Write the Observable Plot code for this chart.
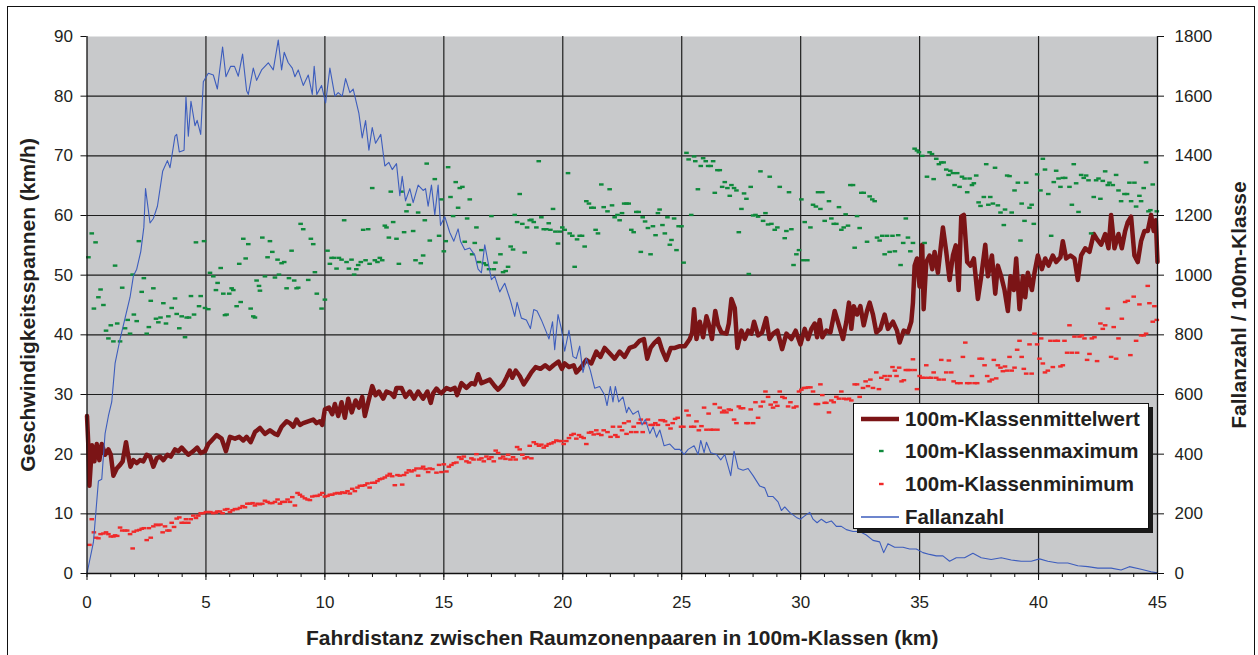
<!DOCTYPE html>
<html><head><meta charset="utf-8">
<script src="https://cdn.jsdelivr.net/npm/d3@7"></script>
<script src="https://cdn.jsdelivr.net/npm/@observablehq/plot@0.6"></script>
<style>
body{margin:0;background:#fff;font-family:"Liberation Sans",Arial,sans-serif;}
#wrap{position:relative;width:1258px;height:655px;overflow:hidden;background:#fff;}
#border{position:absolute;left:7px;top:6px;width:1246px;height:720px;border:1px solid #111;}
#chart{position:absolute;left:0;top:0;}
#legend{position:absolute;left:853px;top:403px;width:294px;height:124px;background:#fff;border:1px solid #111;box-shadow:4px 4px 0 #1a1a1a;}
.row{position:absolute;left:0;height:30px;width:294px;}
.row svg{position:absolute;left:5px;top:0;}
.row span{position:absolute;left:51px;top:3px;font-weight:bold;font-size:20.5px;color:#231f20;line-height:24px;white-space:nowrap;}
</style></head><body>
<div id="wrap"><div id="border"></div><div id="chart"></div>
<div id="legend">
 <div class="row" style="top:0px"><svg width="44" height="30"><line x1="2" x2="40" y1="15" y2="15" stroke="#7b1416" stroke-width="4.5"/></svg><span>100m-Klassenmittelwert</span></div>
 <div class="row" style="top:32px"><svg width="44" height="30"><rect x="20" y="13.8" width="4.6" height="2.4" fill="#0f8a3c"/></svg><span>100m-Klassenmaximum</span></div>
 <div class="row" style="top:65px"><svg width="44" height="30"><rect x="20" y="13.8" width="4.6" height="2.4" fill="#f02a2a"/></svg><span>100m-Klassenminimum</span></div>
 <div class="row" style="top:98px"><svg width="44" height="30"><line x1="2" x2="40" y1="15" y2="15" stroke="#3d5dbd" stroke-width="1.6"/></svg><span>Fallanzahl</span></div>
</div></div>
<script>
// Fallanzahl (count per 100m class) as [km, count]
const casePts = [[0,0],[0.27,105],[0.48,310],[0.62,316],[0.76,469],[0.90,528],[1.04,575],[1.18,704],[1.39,786],[1.60,856],[1.81,926],[1.95,997],[2.09,1020],[2.26,1079],[2.39,1161],[2.46,1290],[2.65,1175],[2.79,1190],[2.96,1231],[3.18,1348],[3.38,1384],[3.49,1360],[3.70,1466],[3.77,1472],[3.88,1413],[4.08,1419],[4.16,1597],[4.26,1466],[4.37,1583],[4.54,1501],[4.63,1519],[4.78,1472],[4.89,1648],[5.10,1677],[5.31,1671],[5.48,1624],[5.70,1765],[5.84,1665],[6.04,1700],[6.20,1700],[6.36,1667],[6.54,1741],[6.71,1618],[6.78,1606],[6.99,1694],[7.13,1653],[7.34,1688],[7.62,1712],[7.83,1688],[8.04,1788],[8.18,1688],[8.29,1747],[8.46,1712],[8.63,1694],[8.74,1665],[8.88,1688],[9.09,1636],[9.30,1671],[9.47,1606],[9.55,1700],[9.66,1606],[9.86,1636],[10.03,1577],[10.21,1694],[10.42,1600],[10.56,1612],[10.73,1600],[10.87,1659],[11.05,1612],[11.19,1624],[11.43,1542],[11.57,1460],[11.71,1518],[11.85,1419],[11.99,1495],[12.13,1442],[12.35,1472],[12.52,1366],[12.69,1378],[12.83,1354],[13.01,1374],[13.15,1266],[13.25,1331],[13.39,1249],[13.57,1290],[13.71,1243],[13.92,1302],[14.13,1284],[14.23,1290],[14.34,1231],[14.48,1302],[14.62,1202],[14.76,1302],[14.86,1167],[15.04,1196],[15.25,1143],[15.42,1114],[15.60,1155],[15.70,1114],[15.88,1085],[16.09,1091],[16.30,1067],[16.44,1020],[16.58,1008],[16.72,1102],[16.86,1044],[17.00,985],[17.14,997],[17.35,944],[17.56,973],[17.80,915],[17.98,862],[18.08,909],[18.26,856],[18.47,850],[18.64,821],[18.78,885],[18.92,880],[19.10,850],[19.31,809],[19.42,786],[19.57,844],[19.66,750],[19.80,868],[19.94,821],[20.08,745],[20.26,815],[20.43,727],[20.57,721],[20.71,762],[20.85,674],[20.99,721],[21.16,680],[21.34,621],[21.55,627],[21.76,598],[21.86,563],[22.00,627],[22.11,575],[22.21,627],[22.35,575],[22.53,592],[22.68,539],[22.77,557],[22.95,534],[23.17,545],[23.33,498],[23.47,516],[23.66,469],[23.80,492],[23.94,457],[24.08,481],[24.26,428],[24.50,434],[24.71,416],[24.92,416],[25.10,399],[25.27,416],[25.52,428],[25.69,399],[25.80,446],[25.94,405],[26.04,440],[26.22,405],[26.46,399],[26.64,381],[26.81,399],[27.06,328],[27.20,410],[27.37,352],[27.58,346],[27.79,352],[28.00,328],[28.28,293],[28.49,287],[28.63,258],[28.84,258],[29.05,240],[29.19,211],[29.33,223],[29.54,205],[29.82,188],[29.99,182],[30.17,193],[30.38,205],[30.52,182],[30.69,170],[30.87,182],[31.08,170],[31.29,176],[31.50,158],[31.71,158],[31.92,147],[32.20,141],[32.48,141],[32.76,129],[33.04,111],[33.32,106],[33.49,70],[33.67,100],[33.95,88],[34.30,88],[34.58,82],[34.86,82],[35.14,70],[35.42,64],[35.70,59],[35.98,59],[36.26,41],[36.54,53],[36.89,53],[37.24,68],[37.59,53],[38.01,47],[38.43,53],[38.85,45],[39.27,41],[39.69,41],[40.04,49],[40.39,41],[40.81,35],[41.23,35],[41.65,26],[42.07,23],[42.49,18],[43.05,18],[43.47,12],[43.82,23],[44.31,14],[44.73,6],[45.0,2]];

// 100m-Klassenmittelwert as [km, km/h]
const meanPts = [[0.0,26.4],[0.05,22],[0.1,14.7],[0.21,21.5],[0.31,18.8],[0.41,21.7],[0.52,19],[0.62,21.7],[0.76,19.9],[0.90,20.8],[1.0,19.9],[1.11,16.4],[1.25,17.6],[1.39,18.2],[1.50,18.8],[1.64,22.0],[1.74,19.6],[1.83,17.9],[1.95,19.0],[2.09,18.5],[2.23,19],[2.37,18.8],[2.51,19.9],[2.65,19.6],[2.79,17.9],[2.93,19.3],[3.07,19.6],[3.21,19.0],[3.38,19.9],[3.52,19.6],[3.70,20.8],[3.84,20.5],[3.98,21.1],[4.12,20.5],[4.26,19.9],[4.47,20.5],[4.63,21.1],[4.78,20.2],[4.96,20.5],[5.10,21.7],[5.24,22.3],[5.45,23.2],[5.66,22.6],[5.84,20.5],[6.01,22.9],[6.22,22.6],[6.40,22.9],[6.57,22.3],[6.71,22.9],[6.88,22],[7.06,23.7],[7.27,24.4],[7.48,23.4],[7.69,24.0],[7.90,23.4],[8.01,23.2],[8.18,24.6],[8.39,25.5],[8.53,25.2],[8.67,24.6],[8.81,25.8],[8.95,24.9],[9.09,25.2],[9.30,25.5],[9.51,25.8],[9.65,25.2],[9.79,25.5],[9.89,24.9],[10.0,27.5],[10.17,27.8],[10.31,26.7],[10.42,28.4],[10.56,26.4],[10.70,28.7],[10.84,26.1],[10.98,29.3],[11.13,27.0],[11.29,29.0],[11.43,27.8],[11.57,29.6],[11.68,26.4],[11.82,28.7],[11.99,31.4],[12.13,29.9],[12.27,30.5],[12.45,29.3],[12.59,30.5],[12.77,30.2],[12.91,29.6],[13.01,31.1],[13.22,31.1],[13.39,29.6],[13.57,30.5],[13.75,29.3],[13.92,30.5],[14.13,29.3],[14.31,30.5],[14.45,28.6],[14.55,30.2],[14.69,31.0],[14.80,30.5],[14.90,30.2],[15.11,31.1],[15.28,30.8],[15.46,31.1],[15.56,29.9],[15.74,31.9],[15.95,31.1],[16.16,31.9],[16.30,31.7],[16.44,33.4],[16.58,31.9],[16.76,32.2],[16.93,32.5],[17.14,31.4],[17.28,30.8],[17.49,31.7],[17.63,32.8],[17.77,34.0],[17.88,32.8],[18.02,34.0],[18.19,33.1],[18.36,31.7],[18.54,32.8],[18.68,33.7],[18.86,34.6],[19.06,34.3],[19.26,34.9],[19.44,34.3],[19.61,34.9],[19.82,35.5],[19.96,34.3],[20.08,35.2],[20.26,34.6],[20.46,34.9],[20.57,33.7],[20.78,34.6],[20.99,35.8],[21.20,35.2],[21.41,37.2],[21.58,36.3],[21.76,37.8],[21.97,36.9],[22.18,36.0],[22.39,37.2],[22.60,36.3],[22.81,37.8],[23.02,38.1],[23.23,39.0],[23.41,39.3],[23.55,36.0],[23.69,37.8],[23.86,38.7],[24.03,39.3],[24.17,37.5],[24.35,35.8],[24.54,37.8],[24.71,37.8],[24.92,38.1],[25.13,38.1],[25.34,39.3],[25.44,40.4],[25.52,44.3],[25.62,39.3],[25.76,42.2],[25.90,39.6],[26.04,43.1],[26.13,41.9],[26.27,39.3],[26.41,44.0],[26.53,41.6],[26.67,40.4],[26.88,40.2],[26.98,41.9],[27.09,46.0],[27.23,44.5],[27.34,37.8],[27.51,40.7],[27.65,39.3],[27.79,40.7],[27.93,40.2],[28.04,42.2],[28.21,39.9],[28.38,40.4],[28.55,42.8],[28.69,39.3],[28.84,40.2],[29.02,40.7],[29.22,37.6],[29.40,40.2],[29.61,39.3],[29.79,40.7],[29.99,38.4],[30.17,41.0],[30.31,39.3],[30.45,41.0],[30.59,41.9],[30.69,39.6],[30.80,42.5],[30.91,39.6],[31.08,40.7],[31.25,40.4],[31.43,44.0],[31.61,41.6],[31.78,39.3],[31.92,42.2],[32.03,45.4],[32.13,41.0],[32.23,44.8],[32.37,43.4],[32.51,44.8],[32.65,41.6],[32.79,44.0],[32.90,45.4],[33.04,43.4],[33.18,40.4],[33.35,41.0],[33.53,43.4],[33.67,41.0],[33.88,42.2],[34.05,40.7],[34.16,38.7],[34.33,40.7],[34.51,40.4],[34.65,42.2],[34.72,45.4],[34.79,51.6],[34.89,52.8],[35.0,48.1],[35.11,55.1],[35.17,44.3],[35.28,52.2],[35.42,53.3],[35.53,51.0],[35.63,53.9],[35.77,50.4],[35.98,58.0],[36.12,53.9],[36.26,49.2],[36.40,53.3],[36.52,55.0],[36.64,47.5],[36.75,59.8],[36.86,60.1],[37.0,52.2],[37.14,51.6],[37.28,52.8],[37.45,46.0],[37.59,49.8],[37.76,55.1],[37.87,49.8],[38.04,53.3],[38.18,46.9],[38.29,51.6],[38.43,49.8],[38.57,47.5],[38.71,44.0],[38.82,49.8],[38.96,47.5],[39.06,52.8],[39.20,44.3],[39.34,49.8],[39.44,46.3],[39.55,50.4],[39.72,47.5],[39.83,50.4],[39.97,53.3],[40.14,51.0],[40.28,52.8],[40.42,51.6],[40.60,53.3],[40.74,52.2],[40.92,53.0],[41.02,55.7],[41.16,52.8],[41.34,53.3],[41.51,52.8],[41.65,49.2],[41.79,53.3],[41.96,54.5],[42.14,53.9],[42.32,56.9],[42.46,56.0],[42.63,55.1],[42.80,56.9],[42.94,54.5],[43.05,60.1],[43.19,54.5],[43.36,56.9],[43.50,54.5],[43.64,57.4],[43.75,58.9],[43.89,59.8],[44.03,53.3],[44.17,52.2],[44.31,55.7],[44.45,57.4],[44.59,57.4],[44.73,60.1],[44.84,57.4],[44.93,59.2],[45.0,52.2]];

// 100m-Klassenmaximum as [km, km/h]
const maxPts = [[0.06,53.0],[0.2,57.0],[0.29,44.4],[0.36,55.5],[0.48,46.3],[0.57,47.6],[0.69,45.0],[0.80,40.7],[0.90,39.4],[1.0,41.6],[1.11,38.9],[1.18,51.6],[1.27,41.9],[1.39,38.9],[1.48,47.9],[1.60,41.1],[1.71,42.5],[1.81,40.2],[1.92,50.1],[1.97,43.4],[2.09,42.3],[2.18,55.7],[2.30,47.2],[2.39,49.5],[2.51,40.2],[2.60,41.3],[2.68,45.7],[2.79,47.8],[2.90,42.7],[3.0,42.1],[3.09,42.9],[3.21,45.3],[3.32,41.9],[3.42,43.1],[3.56,44.5],[3.70,46.1],[3.77,43.5],[3.88,41.1],[3.98,43.1],[4.12,39.6],[4.19,42.9],[4.29,42.9],[4.37,46.5],[4.50,43.4],[4.58,55.5],[4.71,44.8],[4.78,46.5],[4.92,55.7],[4.96,44.5],[5.10,44.3],[5.17,50.4],[5.31,49.8],[5.42,47.5],[5.49,48.7],[5.62,51.2],[5.73,46.9],[5.80,43.3],[5.87,43.4],[5.98,46.9],[6.08,47.8],[6.15,47.5],[6.29,44.8],[6.40,51.9],[6.46,45.5],[6.57,56.1],[6.67,52.8],[6.78,55.2],[6.88,44.4],[6.99,43.1],[7.06,42.9],[7.13,49.1],[7.23,48.2],[7.27,47.4],[7.37,56.3],[7.48,49.8],[7.59,53.0],[7.69,55.7],[7.79,53.9],[7.90,49.6],[8.01,52.6],[8.07,50.1],[8.18,52.0],[8.29,52.2],[8.39,47.8],[8.49,49.5],[8.60,54.1],[8.71,49.1],[8.81,47.8],[8.88,47.9],[8.98,58.6],[9.09,57.7],[9.30,49.2],[9.41,56.1],[9.51,55.2],[9.58,50.5],[9.66,46.9],[9.86,44.4],[10.0,45.9],[10.11,54.1],[10.21,51.9],[10.28,52.9],[10.39,52.9],[10.49,51.1],[10.59,52.9],[10.70,52.6],[10.81,59.2],[10.91,52.2],[11.01,51.1],[11.12,52.6],[11.23,50.1],[11.32,51.0],[11.40,51.7],[11.51,52.2],[11.61,57.6],[11.71,52.5],[11.82,57.7],[11.88,51.9],[11.99,64.6],[12.10,52.5],[12.21,52.2],[12.31,52.9],[12.41,52.5],[12.52,58.3],[12.59,58.0],[12.69,56.3],[12.77,64.0],[12.87,58.9],[13.01,56.1],[13.11,51.9],[13.22,64.0],[13.33,57.2],[13.43,60.7],[13.53,61.8],[13.71,57.4],[13.81,52.5],[13.92,60.5],[14.03,52.0],[14.13,53.3],[14.20,59.2],[14.28,68.7],[14.41,55.8],[14.62,66.1],[14.80,56.6],[14.90,62.7],[15.0,54.0],[15.08,55.7],[15.18,68.1],[15.28,63.1],[15.39,59.9],[15.50,65.6],[15.60,61.3],[15.67,64.6],[15.78,64.8],[15.88,55.6],[15.98,59.5],[16.09,62.7],[16.19,53.5],[16.30,55.4],[16.37,58.0],[16.48,52.2],[16.58,54.2],[16.68,52.0],[16.79,51.7],[16.90,51.0],[17.0,59.9],[17.10,51.0],[17.17,52.1],[17.28,56.1],[17.38,53.5],[17.49,50.5],[17.60,50.7],[17.70,51.4],[17.81,54.8],[17.91,54.3],[17.98,60.1],[18.08,58.9],[18.19,63.6],[18.30,58.6],[18.40,53.8],[18.50,58.0],[18.61,59.2],[18.68,59.3],[18.78,58.9],[18.89,58.0],[18.99,69.1],[19.10,59.7],[19.20,57.7],[19.31,57.7],[19.41,58.7],[19.48,57.6],[19.59,61.1],[19.69,57.3],[19.80,55.3],[19.87,57.3],[19.98,58.0],[20.08,57.6],[20.22,67.1],[20.29,57.0],[20.40,56.6],[20.50,51.4],[20.60,56.0],[20.71,56.6],[20.81,56.6],[20.92,54.8],[20.99,62.4],[21.10,62.0],[21.20,61.3],[21.30,61.3],[21.38,57.6],[21.48,57.0],[21.62,65.2],[21.72,61.4],[21.88,60.7],[21.97,64.4],[22.07,61.7],[22.18,59.7],[22.30,60.1],[22.39,59.2],[22.49,60.4],[22.58,62.0],[22.68,62.0],[22.77,62.0],[22.88,57.6],[22.98,57.2],[23.09,60.6],[23.19,60.6],[23.28,53.9],[23.36,59.7],[23.46,59.0],[23.58,57.9],[23.69,53.5],[23.79,58.2],[23.90,56.7],[24.0,60.4],[24.07,61.0],[24.19,58.4],[24.29,57.0],[24.40,59.7],[24.50,55.1],[24.57,55.9],[24.68,59.5],[24.78,54.2],[24.87,58.2],[24.99,58.2],[25.08,52.1],[25.20,70.5],[25.29,69.4],[25.40,60.1],[25.52,69.9],[25.57,69.1],[25.68,64.4],[25.80,68.3],[25.90,69.6],[26.01,69.1],[26.11,68.3],[26.22,68.3],[26.32,69.1],[26.39,63.8],[26.50,67.6],[26.60,67.6],[26.70,64.8],[26.81,65.6],[26.92,64.6],[27.02,63.3],[27.09,65.1],[27.20,64.6],[27.30,64.2],[27.40,57.2],[27.51,61.1],[27.62,63.7],[27.72,62.8],[27.82,50.2],[27.90,64.8],[28.0,60.0],[28.10,60.1],[28.21,59.8],[28.31,67.4],[28.42,59.1],[28.52,60.4],[28.63,58.5],[28.70,66.5],[28.77,58.6],[28.91,57.6],[29.02,58.0],[29.12,64.8],[29.33,56.2],[29.40,57.4],[29.51,63.9],[29.61,57.7],[29.70,51.7],[29.82,53.5],[29.93,54.2],[30.03,62.7],[30.10,52.5],[30.17,58.9],[30.28,52.5],[30.41,58.0],[30.52,61.8],[30.64,61.5],[30.73,63.9],[30.83,61.1],[30.91,63.9],[31.01,59.1],[31.19,62.4],[31.29,59.5],[31.39,58.6],[31.50,58.6],[31.61,61.4],[31.71,57.6],[31.81,58.0],[31.89,60.2],[31.99,58.3],[32.09,65.1],[32.20,65.1],[32.27,54.6],[32.37,59.9],[32.48,57.9],[32.55,63.8],[32.65,63.8],[32.79,55.6],[32.90,63.2],[33.01,62.7],[33.11,62.4],[33.21,56.3],[33.32,55.8],[33.43,56.6],[33.53,53.5],[33.63,56.6],[33.74,53.9],[33.86,56.6],[33.96,54.0],[34.10,56.7],[34.20,51.7],[34.31,55.4],[34.42,59.5],[34.51,56.3],[34.61,54.0],[34.72,55.4],[34.79,71.2],[34.89,70.9],[34.97,70.6],[35.11,70.0],[35.21,55.4],[35.31,66.5],[35.42,70.6],[35.52,70.3],[35.59,66.1],[35.70,69.5],[35.81,68.6],[35.91,68.9],[36.01,68.9],[36.12,67.7],[36.22,66.8],[36.29,67.5],[36.40,67.1],[36.47,65.1],[36.58,67.1],[36.68,64.8],[36.78,66.5],[36.89,66.2],[37.0,63.9],[37.10,66.2],[37.20,65.1],[37.28,65.4],[37.38,66.7],[37.48,62.2],[37.56,61.6],[37.70,63.1],[37.80,68.6],[37.89,61.8],[37.97,63.1],[38.08,62.0],[38.17,68.0],[38.29,61.7],[38.40,60.5],[38.54,58.4],[38.59,61.0],[38.68,66.7],[38.78,66.6],[38.87,60.5],[38.99,64.2],[39.13,65.5],[39.24,55.8],[39.29,62.0],[39.41,59.1],[39.48,65.5],[39.62,61.3],[39.71,61.8],[39.80,58.6],[39.94,66.9],[40.08,64.2],[40.18,69.5],[40.27,67.7],[40.41,63.6],[40.53,56.6],[40.64,65.6],[40.74,67.5],[40.84,66.2],[40.92,64.8],[41.02,66.3],[41.12,66.3],[41.30,64.8],[41.40,61.8],[41.48,68.6],[41.58,65.4],[41.68,60.6],[41.79,66.8],[41.90,66.3],[42.0,66.7],[42.10,65.9],[42.21,57.0],[42.32,63.1],[42.42,65.9],[42.52,66.2],[42.60,62.8],[42.70,65.8],[42.80,67.4],[42.91,65.1],[42.98,65.5],[43.12,65.1],[43.26,66.8],[43.36,64.2],[43.47,62.4],[43.61,63.6],[43.72,63.6],[43.82,65.5],[43.89,62.4],[44.03,65.5],[44.10,61.5],[44.24,63.3],[44.31,62.4],[44.42,64.6],[44.52,68.9],[44.62,60.7],[44.70,60.9],[44.80,65.2],[44.97,60.7]];

// 100m-Klassenminimum as [km, km/h]
const minPts = [[0.10,4.8],[0.2,9.1],[0.29,6.9],[0.38,6.0],[0.48,5.9],[0.57,6.6],[0.69,6.7],[0.80,6.9],[0.90,6.6],[1.0,6.2],[1.11,6.2],[1.18,6.4],[1.27,6.3],[1.39,7.7],[1.48,7.2],[1.60,7.2],[1.69,7.2],[1.81,6.6],[1.92,4.2],[1.97,7.0],[2.09,7.2],[2.20,7.3],[2.30,7.5],[2.39,7.6],[2.51,5.6],[2.60,7.6],[2.68,6.0],[2.79,7.9],[2.90,8.2],[3.0,8.1],[3.09,8.2],[3.18,6.9],[3.28,7.9],[3.38,7.2],[3.46,7.2],[3.56,8.5],[3.66,7.8],[3.77,9.2],[3.88,9.4],[3.98,8.5],[4.08,8.5],[4.16,9.1],[4.26,8.5],[4.36,9.1],[4.47,9.7],[4.58,9.3],[4.68,9.7],[4.78,10.1],[4.89,10.1],[5.0,10.3],[5.10,10.3],[5.19,10.3],[5.31,10.1],[5.41,10.2],[5.48,10.4],[5.59,10.4],[5.70,10.1],[5.80,10.7],[5.90,10.8],[6.01,10.3],[6.12,10.6],[6.22,10.8],[6.32,10.8],[6.43,11.0],[6.54,11.3],[6.64,11.1],[6.74,11.7],[6.85,11.7],[6.96,11.8],[7.06,11.4],[7.17,11.7],[7.27,11.6],[7.37,11.7],[7.48,12.2],[7.59,12.0],[7.69,11.8],[7.79,11.8],[7.90,12.0],[8.01,12.4],[8.11,11.7],[8.21,12.0],[8.32,12.0],[8.43,12.4],[8.53,12.0],[8.63,12.8],[8.74,11.4],[8.85,13.5],[8.95,13.2],[9.05,12.9],[9.16,12.6],[9.27,12.4],[9.37,12.3],[9.47,12.9],[9.58,13.0],[9.69,13.0],[9.79,13.2],[9.89,13.5],[10.0,12.9],[10.11,13.0],[10.21,13.2],[10.31,13.2],[10.42,13.4],[10.53,13.5],[10.63,13.4],[10.73,13.6],[10.84,13.5],[10.95,13.8],[11.05,13.4],[11.15,14.2],[11.26,13.8],[11.37,14.4],[11.47,14.7],[11.57,14.7],[11.68,14.8],[11.79,15.1],[11.88,14.4],[11.99,15.2],[12.10,15.2],[12.21,15.5],[12.31,15.8],[12.41,15.9],[12.52,16.1],[12.63,16.4],[12.73,16.7],[12.83,16.3],[12.94,14.8],[13.05,16.5],[13.15,16.4],[13.25,14.9],[13.33,16.5],[13.43,16.9],[13.53,17.3],[13.64,17.1],[13.75,17.3],[13.85,17.6],[13.92,16.4],[14.03,17.6],[14.13,17.9],[14.23,17.5],[14.34,17.0],[14.41,17.6],[14.52,17.5],[14.69,16.9],[14.80,18.2],[14.90,17.0],[15.0,18.3],[15.11,17.1],[15.21,17.9],[15.32,18.2],[15.42,18.5],[15.53,18.6],[15.64,19.5],[15.74,19.2],[15.84,19.6],[15.95,18.8],[16.06,18.6],[16.16,19.3],[16.25,19.1],[16.37,20.0],[16.48,19.1],[16.58,19.3],[16.68,18.8],[16.79,19.6],[16.90,19.2],[17.0,19.5],[17.10,18.8],[17.18,20.6],[17.28,20.2],[17.38,19.3],[17.49,19.6],[17.59,19.2],[17.70,19.9],[17.80,19.1],[17.91,19.5],[18.02,19.1],[18.08,21.2],[18.19,20.8],[18.30,19.9],[18.40,19.3],[18.50,19.5],[18.61,21.4],[18.68,19.3],[18.78,22.0],[18.89,21.7],[19.0,21.4],[19.10,21.6],[19.20,21.1],[19.31,21.4],[19.41,21.7],[19.52,21.8],[19.62,22.0],[19.73,22.3],[19.84,22.2],[19.94,22.2],[20.04,21.7],[20.15,22.2],[20.26,22.7],[20.36,23.2],[20.46,23.4],[20.57,22.6],[20.68,23.2],[20.78,22.9],[20.88,22.7],[20.99,21.7],[21.10,23.6],[21.20,23.7],[21.30,23.3],[21.41,24.0],[21.50,23.4],[21.62,23.2],[21.72,24.0],[21.88,23.7],[22.01,22.9],[22.11,24.6],[22.21,23.2],[22.30,22.9],[22.39,24.6],[22.49,24.0],[22.58,25.2],[22.68,23.4],[22.77,25.5],[22.88,23.7],[22.98,24.6],[23.09,23.7],[23.19,25.2],[23.28,25.8],[23.36,23.7],[23.46,25.2],[23.58,25.8],[23.69,24.9],[23.79,24.9],[23.89,25.2],[24.0,24.9],[24.11,25.7],[24.21,25.7],[24.30,25.5],[24.41,24.9],[24.53,24.3],[24.62,25.2],[24.72,25.9],[24.83,26.1],[24.97,24.6],[25.07,24.6],[25.20,27.3],[25.29,26.5],[25.40,24.6],[25.52,24.6],[25.62,25.5],[25.72,24.0],[25.83,24.7],[25.94,27.8],[26.04,24.1],[26.13,26.8],[26.22,24.1],[26.32,24.1],[26.39,28.4],[26.50,24.1],[26.60,27.8],[26.70,27.0],[26.78,27.3],[26.88,27.0],[26.98,27.5],[27.06,27.4],[27.20,25.8],[27.30,25.2],[27.40,28.0],[27.48,27.7],[27.58,27.7],[27.72,25.2],[27.79,25.2],[27.90,27.5],[28.0,25.2],[28.10,28.7],[28.21,26.1],[28.32,28.0],[28.42,28.8],[28.52,30.5],[28.63,29.6],[28.74,28.3],[28.84,27.8],[28.94,28.7],[29.02,28.1],[29.12,30.5],[29.23,29.6],[29.33,29.4],[29.47,28.0],[29.57,28.7],[29.71,27.8],[29.82,28.0],[29.93,30.5],[30.03,30.8],[30.13,31.1],[30.21,31.1],[30.31,31.2],[30.41,31.2],[30.52,30.5],[30.64,28.4],[30.73,28.4],[30.83,31.7],[30.91,29.9],[31.01,28.6],[31.08,28.6],[31.19,27.0],[31.29,29.0],[31.39,28.7],[31.50,29.6],[31.61,29.3],[31.71,30.5],[31.81,29.3],[31.92,29.2],[32.03,29.3],[32.13,29.0],[32.27,31.7],[32.37,31.7],[32.48,29.6],[32.62,31.1],[32.73,32.2],[32.83,31.4],[32.93,32.5],[33.04,31.1],[33.18,33.7],[33.29,30.9],[33.39,32.8],[33.53,33.1],[33.63,32.5],[33.74,33.1],[33.86,34.6],[33.96,34.0],[34.03,33.1],[34.14,34.5],[34.24,32.2],[34.34,32.4],[34.42,34.1],[34.51,34.1],[34.61,34.1],[34.72,35.9],[34.79,34.1],[34.89,30.9],[35.0,33.1],[35.11,32.8],[35.21,32.8],[35.28,34.9],[35.39,32.8],[35.49,32.8],[35.59,33.7],[35.70,32.8],[35.81,32.5],[35.91,35.8],[36.01,32.5],[36.12,33.7],[36.23,35.7],[36.33,33.7],[36.43,32.2],[36.58,31.9],[36.72,31.9],[36.82,36.3],[36.92,38.7],[37.0,31.9],[37.10,31.9],[37.20,33.1],[37.31,31.9],[37.42,31.9],[37.52,36.0],[37.62,36.0],[37.73,34.9],[37.84,33.1],[37.94,32.2],[38.04,32.5],[38.12,35.8],[38.22,32.7],[38.29,34.9],[38.40,34.5],[38.50,33.9],[38.59,34.7],[38.68,34.0],[38.78,36.3],[38.87,34.0],[38.99,34.5],[39.10,37.5],[39.20,39.0],[39.29,36.3],[39.38,34.3],[39.48,33.5],[39.62,38.4],[39.71,33.5],[39.83,40.2],[39.94,38.4],[40.04,36.0],[40.11,39.4],[40.18,35.2],[40.27,33.7],[40.39,34.0],[40.50,39.0],[40.60,34.6],[40.70,39.0],[40.81,39.0],[40.92,34.7],[41.02,34.9],[41.09,39.0],[41.20,37.0],[41.30,41.6],[41.40,37.0],[41.51,39.7],[41.62,37.0],[41.72,39.7],[41.82,39.9],[41.93,39.4],[42.04,35.8],[42.14,36.8],[42.24,39.4],[42.35,39.6],[42.46,35.6],[42.60,41.9],[42.70,41.0],[42.80,41.6],[42.91,44.4],[43.05,36.3],[43.16,41.3],[43.26,36.0],[43.36,39.4],[43.50,42.7],[43.64,45.5],[43.75,45.7],[43.86,36.6],[44.00,46.4],[44.10,39.0],[44.24,45.1],[44.31,39.9],[44.42,39.9],[44.52,40.2],[44.59,48.2],[44.66,45.3],[44.80,42.2],[44.87,44.8],[44.97,42.5]];

const speedTicks = [0,10,20,30,40,50,60,70,80,90];
const countTicks = [0,200,400,600,800,1000,1200,1400,1600,1800];
const kmTicks = [0,5,10,15,20,25,30,35,40,45];
const kmMinor = d3.range(0,46,1);
const countPerSpeed = 1800/90;

const titleY = "Geschwindigkeitsspannen (km/h)";
const titleY2 = "Fallanzahl / 100m-Klasse";
const titleX = "Fahrdistanz zwischen Raumzonenpaaren in 100m-Klassen (km)";

const dash = {draw(ctx){ctx.moveTo(-2.3,-1.2);ctx.lineTo(2.3,-1.2);ctx.lineTo(2.3,1.2);ctx.lineTo(-2.3,1.2);ctx.closePath();}};
const FONT = "'Liberation Sans', Arial, sans-serif";
const INK = "#231f20";

const chart = Plot.plot({
  width: 1258, height: 655,
  marginLeft: 86.5, marginRight: 101, marginTop: 36, marginBottom: 82,
  style: {fontFamily: FONT, background: "transparent", color: INK, overflow: "visible"},
  x: {domain: [0, 45]},
  y: {domain: [0, 90]},
  marks: [
    Plot.frame({fill: "#c8c9cb", stroke: null}),
    Plot.gridY(speedTicks.filter(d => d > 0 && d < 90), {stroke: "#1e1e1e", strokeOpacity: 1, strokeWidth: 1.2}),
    Plot.gridX(kmTicks.filter(d => d > 0 && d < 45), {stroke: "#1e1e1e", strokeOpacity: 1, strokeWidth: 1.2}),
    Plot.line(meanPts, {x: d => d[0], y: d => d[1], stroke: "#7b1416", strokeWidth: 4.5, strokeLinejoin: "round"}),
    Plot.dot(maxPts, {x: d => d[0], y: d => d[1], symbol: dash, fill: "#0f8a3c", stroke: "none"}),
    Plot.dot(minPts, {x: d => d[0], y: d => d[1], symbol: dash, fill: "#f02a2a", stroke: "none"}),
    Plot.line(casePts, {x: d => d[0], y: d => d[1] / countPerSpeed, stroke: "#3d5dbd", strokeWidth: 1.1}),
    Plot.ruleY([0], {stroke: "#111", strokeWidth: 1.3}),
    Plot.ruleX([0, 45], {stroke: "#111", strokeWidth: 1.3}),
    Plot.axisY(speedTicks, {anchor: "left", tickSize: 6, tickPadding: 8, fontSize: 17, label: null, stroke: "#111"}),
    Plot.axisY(speedTicks, {anchor: "right", tickSize: 6, tickPadding: 11, fontSize: 17, label: null, stroke: "#111",
      tickFormat: d => String(Math.round(d * countPerSpeed))}),
    Plot.axisX(kmMinor, {anchor: "bottom", tickSize: 4, tickFormat: () => "", label: null, stroke: "#111"}),
    Plot.axisX(kmTicks, {anchor: "bottom", tickSize: 7, tickPadding: 15, fontSize: 17, label: null, stroke: "#111"}),
    Plot.text([titleY], {frameAnchor: "left", dx: -58.5, rotate: -90, textAnchor: "middle", lineAnchor: "middle", fontSize: 21, fontWeight: "bold", fill: INK}),
    Plot.text([titleY2], {frameAnchor: "right", dx: 82, rotate: -90, textAnchor: "middle", lineAnchor: "middle", fontSize: 21, fontWeight: "bold", fill: INK}),
    Plot.text([titleX], {frameAnchor: "bottom", dy: 65, textAnchor: "middle", lineAnchor: "middle", fontSize: 21, fontWeight: "bold", fill: INK})
  ]
});
document.getElementById("chart").appendChild(chart);
</script>
</body></html>
